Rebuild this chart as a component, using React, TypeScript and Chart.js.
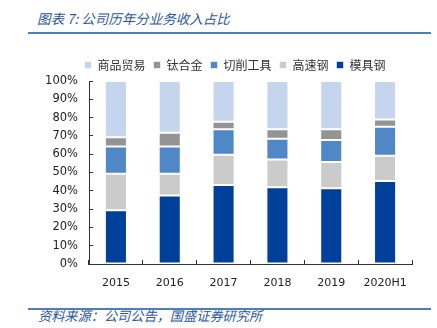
import React, { useEffect, useRef } from "react";
import { Chart, registerables } from "chart.js";

Chart.register(...registerables);

const categories = ["2015", "2016", "2017", "2018", "2019", "2020H1"];
const moldSteel = [29.4, 37.4, 43.2, 42.0, 41.4, 45.3];
const highSpeedSteel = [19.9, 11.9, 16.5, 15.1, 14.4, 13.8];
const cuttingTools = [14.9, 14.9, 14.0, 11.3, 11.9, 15.9];
const titaniumAlloy = [5.0, 7.5, 4.0, 5.3, 6.0, 4.0];
const trading = [30.8, 28.3, 22.3, 26.3, 26.3, 21.0];
const yTicks = [0, 10, 20, 30, 40, 50, 60, 70, 80, 90, 100];

const seriesNames = ["模具钢", "高速钢", "切削工具", "钛合金", "商品贸易"];
const seriesColors = ["#00409A", "#CBCBCB", "#4F87C7", "#949494", "#C5D5EE"];

const legendShift = {
  id: "legendShift",
  afterLayout(chart: any) {
    const l = chart.legend;
    if (l) {
      l.left += 29;
      l.right += 29;
    }
  },
};

export default function App() {
  const canvasRef = useRef<HTMLCanvasElement | null>(null);

  useEffect(() => {
    if (!canvasRef.current) return;
    const series = [moldSteel, highSpeedSteel, cuttingTools, titaniumAlloy, trading];
    const chart = new Chart(canvasRef.current, {
      type: "bar",
      data: {
        labels: categories,
        datasets: series.map((d, i) => ({
          label: seriesNames[i],
          data: d,
          backgroundColor: seriesColors[i],
          borderColor: "rgba(255,255,255,0.55)",
          borderWidth: 1,
          borderSkipped: false,
          categoryPercentage: 1,
          barPercentage: 0.41,
        })),
      },
      plugins: [legendShift],
      options: {
        responsive: false,
        animation: false,
        devicePixelRatio: 1,
        layout: { padding: { left: 0, right: 25, top: 3, bottom: 0 } },
        plugins: {
          tooltip: { enabled: false },
          legend: {
            position: "top",
            reverse: true,
            labels: {
              boxWidth: 7,
              boxHeight: 7,
              padding: 8,
              color: "#333333",
              font: { family: "'Noto Sans CJK SC'", size: 12 },
            },
          },
        },
        scales: {
          x: {
            stacked: true,
            grid: { drawOnChartArea: false, tickLength: -4, color: "#333333", offset: true },
            border: { color: "#333333", width: 1 },
            ticks: {
              color: "#222222",
              padding: 17,
              font: { family: "'DejaVu Sans'", size: 11 },
            },
            afterFit: (s: any) => {
              s.height = 36;
            },
          },
          y: {
            stacked: true,
            min: 0,
            max: 100,
            afterBuildTicks: (s: any) => {
              s.ticks = yTicks.map((v) => ({ value: v }));
            },
            grid: { drawOnChartArea: false, tickLength: -4, color: "#333333" },
            border: { color: "#333333", width: 1 },
            ticks: {
              color: "#222222",
              padding: 15,
              font: { family: "'DejaVu Sans'", size: 11.5 },
              callback: (v: any) => v + "%",
            },
            afterFit: (s: any) => {
              s.width = 89;
            },
          },
        },
      },
    });
    return () => chart.destroy();
  }, []);

  const blue = "#2D58A0";
  return (
    <div style={{ position: "absolute", left: 0, top: 0, width: 437, height: 328, background: "#fff", overflow: "hidden" }}>
      <div
        style={{
          position: "absolute",
          left: 37,
          top: 11,
          fontFamily: "'Noto Sans CJK SC'",
          fontStyle: "italic",
          fontSize: 13.5,
          lineHeight: "15px",
          color: blue,
          whiteSpace: "nowrap",
        }}
      >
        图表 7: 公司历年分业务收入占比
      </div>
      <div style={{ position: "absolute", left: 28, top: 32, width: 403, height: 2, background: "#4F7DC2" }} />
      <canvas
        ref={canvasRef}
        width={437}
        height={252}
        style={{ position: "absolute", left: 0, top: 48, width: 437, height: 252 }}
      />
      <div style={{ position: "absolute", left: 28, top: 308, width: 403, height: 2, background: "#4F7DC2" }} />
      <div
        style={{
          position: "absolute",
          left: 38,
          top: 309,
          fontFamily: "'Noto Sans CJK SC'",
          fontStyle: "italic",
          fontSize: 13.2,
          lineHeight: "14px",
          color: blue,
          whiteSpace: "nowrap",
        }}
      >
        资料来源：公司公告，国盛证券研究所
      </div>
    </div>
  );
}
